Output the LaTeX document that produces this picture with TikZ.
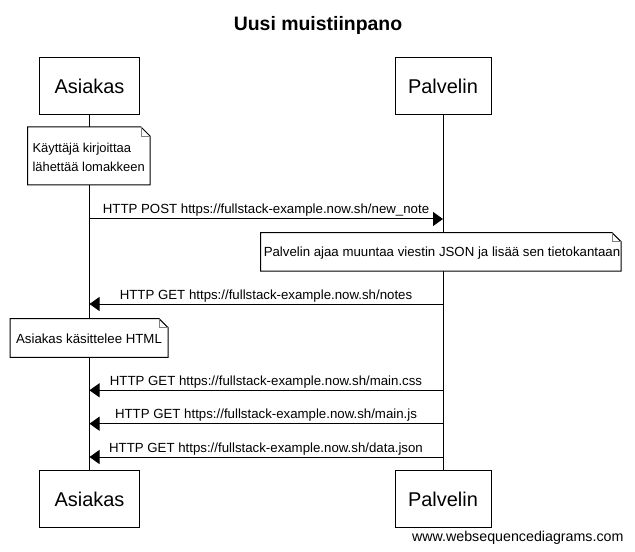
\documentclass[tikz,border=0pt]{standalone}
\usepackage{fontspec}
\setmainfont{Liberation Sans}
\usetikzlibrary{arrows.meta}
\newcommand\wsdnote[4]{%
  \draw[fill=white] (#1,#2) -- ({#3-9},#2) -- (#3,{#2+9}) -- (#3,#4) -- (#1,#4) -- cycle;
  \draw[gray, line width=0.8bp] ({#3-9},#2) -- ({#3-9},{#2+9}) -- (#3,{#2+9});
}
\begin{document}
\begin{tikzpicture}[x=1bp,y=-1bp, line width=1bp,
  actor/.style={draw, fill=white, minimum height=57bp, inner sep=0pt, font=\fontsize{20}{24}\selectfont},
  msg/.style={-{Triangle[length=10bp,width=14bp]}},
  lbl/.style={font=\fontsize{13.3}{15}\selectfont, inner sep=0pt, anchor=base},
  notetxt/.style={font=\fontsize{13}{19}\selectfont, inner sep=0pt, anchor=base, align=left}]
\useasboundingbox (0,0) rectangle (635,552);
\fill[white] (0,0) rectangle (635,552);
% title
\node[anchor=base, inner sep=0pt, font=\fontsize{19.5}{23}\selectfont\bfseries] (title) at (318,31) {Uusi muistiinpano};
% actors
\node[actor, minimum width=100bp] (A) at (89.5,86) {Asiakas};
\node[actor, minimum width=96bp] (P) at (443,86) {Palvelin};
\node[actor, minimum width=100bp] (Ab) at (89.5,499) {Asiakas};
\node[actor, minimum width=96bp] (Pb) at (443,499) {Palvelin};
% lifelines
\draw (A.south) -- (Ab.north);
\draw (P.south) -- (Pb.north);
% note 1
\wsdnote{27.5}{127}{150}{185}
\node[notetxt, anchor=base west] (n1a) at (32,152.5) {Käyttäjä kirjoittaa};
\node[notetxt, anchor=base west] (n1b) at (32,171.5) {lähettää lomakkeen};
% message 1
\coordinate (m1a) at (89.5,219);
\coordinate (m1p) at (443,219);
\draw[msg] (m1a) -- (m1p);
\node[lbl] (l1) at (266,214) {HTTP POST https://fullstack-example.now.sh/new\_note};
% note 2
\wsdnote{260.5}{232.7}{621}{271}
\node[lbl] (n2) at (442,256.5) {Palvelin ajaa muuntaa viestin JSON ja lisää sen tietokantaan};
% message 2
\coordinate (m2p) at (443,304);
\coordinate (m2a) at (89.5,304);
\draw[msg] (m2p) -- (m2a);
\node[lbl] (l2) at (266,299) {HTTP GET https://fullstack-example.now.sh/notes};
% note 3
\wsdnote{10}{318.7}{168}{357.3}
\node[lbl] (n3) at (89,343.5) {Asiakas käsittelee HTML};
% message 3
\coordinate (m3p) at (443,390.3);
\coordinate (m3a) at (89.5,390.3);
\draw[msg] (m3p) -- (m3a);
\node[lbl] (l3) at (266,385.3) {HTTP GET https://fullstack-example.now.sh/main.css};
% message 4
\coordinate (m4p) at (443,423.7);
\coordinate (m4a) at (89.5,423.7);
\draw[msg] (m4p) -- (m4a);
\node[lbl] (l4) at (266,418.7) {HTTP GET https://fullstack-example.now.sh/main.js};
% message 5
\coordinate (m5p) at (443,457);
\coordinate (m5a) at (89.5,457);
\draw[msg] (m5p) -- (m5a);
\node[lbl] (l5) at (266,452) {HTTP GET https://fullstack-example.now.sh/data.json};
% watermark
\node[anchor=base east, inner sep=0pt, font=\fontsize{14.3}{16}\selectfont] (wm) at (624,541) {www.websequencediagrams.com};
\end{tikzpicture}
\end{document}
